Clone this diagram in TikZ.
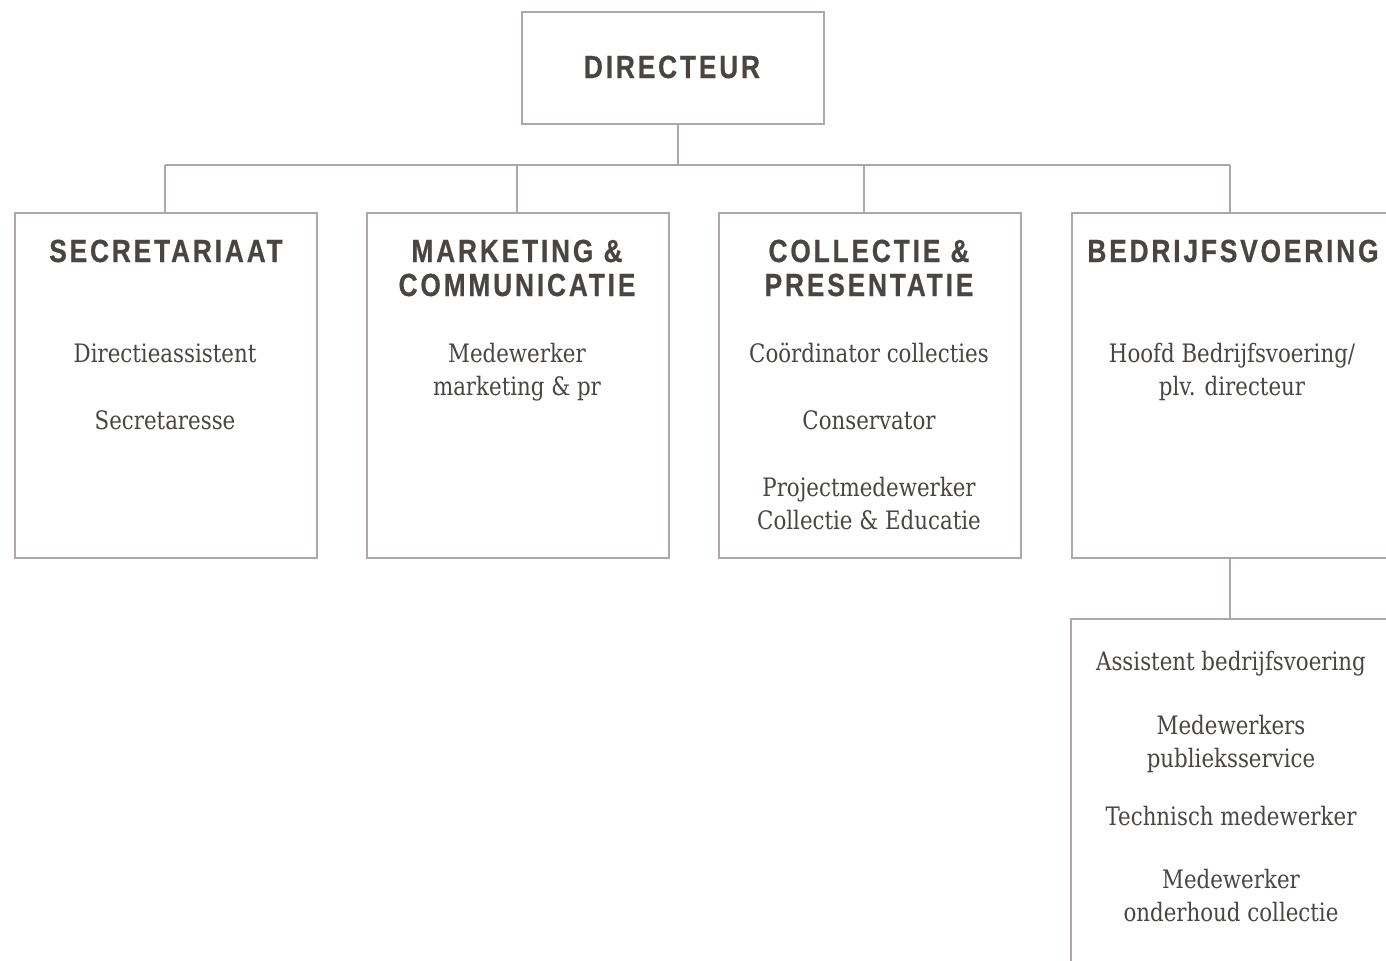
\documentclass[tikz,border=0pt]{standalone}
\usepackage{fontspec}
\newfontfamily\headfont[FakeStretch=0.82,LetterSpace=9,FakeBold=0.6]{Liberation Sans}
\newfontfamily\bodyfont[FakeStretch=0.84]{DejaVu Serif}
\definecolor{txt}{HTML}{4A4542}
\definecolor{linec}{HTML}{B0A6A5}
\tikzset{
  box/.style={draw=linec, line width=0.75pt, anchor=north west, inner sep=0pt, minimum width=151pt, minimum height=172.5pt},
  conn/.style={draw=linec, line width=0.75pt},
  head/.style={anchor=base, inner sep=0pt, text=txt, font=\headfont\bfseries\fontsize{16}{19}\selectfont},
  item/.style={anchor=base, inner sep=0pt, text=txt, font=\bodyfont\fontsize{12.7}{15}\selectfont}
}
\begin{document}
\begin{tikzpicture}[x=0.5pt,y=-0.5pt]
\useasboundingbox (0,0) rectangle (1386,960);
\clip (0,0) rectangle (1386,960);
\fill[white] (0,0) rectangle (1386,960);
% boxes
\node[box, minimum height=56pt] (dir) at (521,11) {};
\node[box] (s1) at (14,212) {};
\node[box] (s2) at (366,212) {};
\node[box] (s3) at (718,212) {};
\node[box, minimum width=170pt] (s4) at (1071,212) {};
\node[box, minimum width=170pt, minimum height=200pt] (s5) at (1070,618) {};
% connectors
\coordinate (top) at (678,165);
\coordinate (b1) at (165,165);
\coordinate (b2) at (517,165);
\coordinate (b3) at (864,165);
\coordinate (b4) at (1230,165);
\coordinate (d4) at (1230,557);
\draw[conn] (top) -- (top |- dir.south);
\draw[conn] (b1) -- (b4);
\draw[conn] (b1) -- (b1 |- s1.north);
\draw[conn] (b2) -- (b2 |- s2.north);
\draw[conn] (b3) -- (b3 |- s3.north);
\draw[conn] (b4) -- (b4 |- s4.north);
\draw[conn] (d4) -- (d4 |- s5.north);
% headings
\node[head] (hdir) at (672,78) {DIRECTEUR};
\node[head] (h1) at (166,262) {SECRETARIAAT};
\node[head] (h2a) at (517,262) {MARKETING \&};
\node[head] (h2b) at (517,296) {COMMUNICATIE};
\node[head] (h3a) at (869,262) {COLLECTIE \&};
\node[head] (h3b) at (869,296) {PRESENTATIE};
\node[head] (h4) at (1233,262) {BEDRIJFSVOERING};
% items
\node[item] (i1a) at (165,362) {Directieassistent};
\node[item] (i1b) at (165,429) {Secretaresse};
\node[item] (i2a) at (517,362) {Medewerker};
\node[item] (i2b) at (517,395) {marketing \& pr};
\node[item] (i3a) at (869,362) {Coördinator collecties};
\node[item] (i3b) at (869,429) {Conservator};
\node[item] (i3c) at (869,496) {Projectmedewerker};
\node[item] (i3d) at (869,529) {Collectie \& Educatie};
\node[item] (i4a) at (1232,362) {Hoofd Bedrijfsvoering/};
\node[item] (i4b) at (1232,395) {plv. directeur};
\node[item] (i5a) at (1231,670) {Assistent bedrijfsvoering};
\node[item] (i5b) at (1231,734) {Medewerkers};
\node[item] (i5c) at (1231,767) {publieksservice};
\node[item] (i5d) at (1231,825) {Technisch medewerker};
\node[item] (i5e) at (1231,888) {Medewerker};
\node[item] (i5f) at (1231,921) {onderhoud collectie};
\end{tikzpicture}
\end{document}
